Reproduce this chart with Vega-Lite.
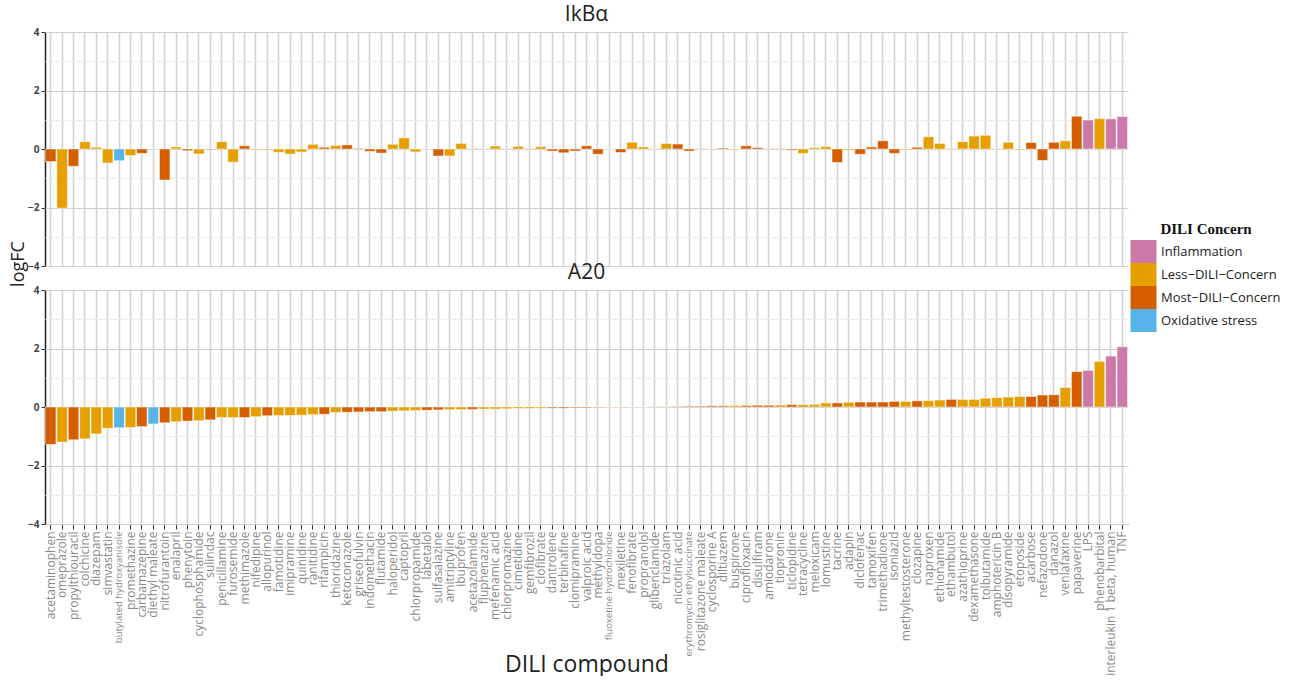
{
  "$schema": "https://vega.github.io/schema/vega-lite/v6.json",
  "background": "white",
  "padding": {"left": 10, "top": 4, "right": 0, "bottom": 0},
  "data": {"values": [
    {"compound": "acetaminophen", "concern": "Most−DILI−Concern", "IkBα": -0.43, "A20": -1.28},
    {"compound": "omeprazole", "concern": "Less−DILI−Concern", "IkBα": -2.02, "A20": -1.20},
    {"compound": "propylthiouracil", "concern": "Most−DILI−Concern", "IkBα": -0.59, "A20": -1.12},
    {"compound": "colchicine", "concern": "Less−DILI−Concern", "IkBα": 0.25, "A20": -1.09},
    {"compound": "diazepam", "concern": "Less−DILI−Concern", "IkBα": 0.06, "A20": -0.92},
    {"compound": "simvastatin", "concern": "Less−DILI−Concern", "IkBα": -0.48, "A20": -0.73},
    {"compound": "butylated hydroxyanisole", "concern": "Oxidative stress", "IkBα": -0.40, "A20": -0.71},
    {"compound": "promethazine", "concern": "Less−DILI−Concern", "IkBα": -0.22, "A20": -0.70},
    {"compound": "carbamazepine", "concern": "Most−DILI−Concern", "IkBα": -0.15, "A20": -0.67},
    {"compound": "diethyl maleate", "concern": "Oxidative stress", "IkBα": -0.02, "A20": -0.58},
    {"compound": "nitrofurantoin", "concern": "Most−DILI−Concern", "IkBα": -1.06, "A20": -0.54},
    {"compound": "enalapril", "concern": "Less−DILI−Concern", "IkBα": 0.07, "A20": -0.50},
    {"compound": "phenytoin", "concern": "Most−DILI−Concern", "IkBα": -0.06, "A20": -0.48},
    {"compound": "cyclophosphamide", "concern": "Less−DILI−Concern", "IkBα": -0.17, "A20": -0.47},
    {"compound": "sulindac", "concern": "Most−DILI−Concern", "IkBα": -0.02, "A20": -0.44},
    {"compound": "penicillamine", "concern": "Less−DILI−Concern", "IkBα": 0.25, "A20": -0.36},
    {"compound": "furosemide", "concern": "Less−DILI−Concern", "IkBα": -0.45, "A20": -0.36},
    {"compound": "methimazole", "concern": "Most−DILI−Concern", "IkBα": 0.11, "A20": -0.36},
    {"compound": "nifedipine", "concern": "Less−DILI−Concern", "IkBα": -0.03, "A20": -0.33},
    {"compound": "allopurinol", "concern": "Most−DILI−Concern", "IkBα": -0.02, "A20": -0.30},
    {"compound": "famotidine", "concern": "Less−DILI−Concern", "IkBα": -0.11, "A20": -0.29},
    {"compound": "imipramine", "concern": "Less−DILI−Concern", "IkBα": -0.17, "A20": -0.29},
    {"compound": "quinidine", "concern": "Less−DILI−Concern", "IkBα": -0.10, "A20": -0.28},
    {"compound": "ranitidine", "concern": "Less−DILI−Concern", "IkBα": 0.16, "A20": -0.26},
    {"compound": "rifampicin", "concern": "Most−DILI−Concern", "IkBα": 0.06, "A20": -0.25},
    {"compound": "thioridazine", "concern": "Less−DILI−Concern", "IkBα": 0.12, "A20": -0.19},
    {"compound": "ketoconazole", "concern": "Most−DILI−Concern", "IkBα": 0.14, "A20": -0.18},
    {"compound": "griseofulvin", "concern": "Most−DILI−Concern", "IkBα": 0.02, "A20": -0.17},
    {"compound": "indomethacin", "concern": "Most−DILI−Concern", "IkBα": -0.08, "A20": -0.16},
    {"compound": "flutamide", "concern": "Most−DILI−Concern", "IkBα": -0.14, "A20": -0.16},
    {"compound": "haloperidol", "concern": "Less−DILI−Concern", "IkBα": 0.16, "A20": -0.14},
    {"compound": "captopril", "concern": "Less−DILI−Concern", "IkBα": 0.38, "A20": -0.13},
    {"compound": "chlorpropamide", "concern": "Less−DILI−Concern", "IkBα": -0.10, "A20": -0.12},
    {"compound": "labetalol", "concern": "Most−DILI−Concern", "IkBα": -0.01, "A20": -0.11},
    {"compound": "sulfasalazine", "concern": "Most−DILI−Concern", "IkBα": -0.24, "A20": -0.10},
    {"compound": "amitriptyline", "concern": "Less−DILI−Concern", "IkBα": -0.24, "A20": -0.09},
    {"compound": "ibuprofen", "concern": "Less−DILI−Concern", "IkBα": 0.19, "A20": -0.09},
    {"compound": "acetazolamide", "concern": "Most−DILI−Concern", "IkBα": 0.01, "A20": -0.08},
    {"compound": "fluphenazine", "concern": "Less−DILI−Concern", "IkBα": 0.01, "A20": -0.07},
    {"compound": "mefenamic acid", "concern": "Less−DILI−Concern", "IkBα": 0.10, "A20": -0.07},
    {"compound": "chlorpromazine", "concern": "Less−DILI−Concern", "IkBα": 0.01, "A20": -0.06},
    {"compound": "cimetidine", "concern": "Less−DILI−Concern", "IkBα": 0.09, "A20": -0.05},
    {"compound": "gemfibrozil", "concern": "Less−DILI−Concern", "IkBα": 0.02, "A20": -0.05},
    {"compound": "clofibrate", "concern": "Less−DILI−Concern", "IkBα": 0.08, "A20": -0.04},
    {"compound": "dantrolene", "concern": "Most−DILI−Concern", "IkBα": -0.07, "A20": -0.04},
    {"compound": "terbinafine", "concern": "Most−DILI−Concern", "IkBα": -0.13, "A20": -0.04},
    {"compound": "clomipramine", "concern": "Most−DILI−Concern", "IkBα": -0.07, "A20": -0.03},
    {"compound": "valproic acid", "concern": "Most−DILI−Concern", "IkBα": 0.11, "A20": -0.03},
    {"compound": "methyldopa", "concern": "Most−DILI−Concern", "IkBα": -0.18, "A20": -0.02},
    {"compound": "fluoxetine hydrochloride", "concern": "Less−DILI−Concern", "IkBα": -0.01, "A20": -0.01},
    {"compound": "mexiletine", "concern": "Most−DILI−Concern", "IkBα": -0.12, "A20": -0.01},
    {"compound": "fenofibrate", "concern": "Less−DILI−Concern", "IkBα": 0.23, "A20": 0.0},
    {"compound": "propranolol", "concern": "Less−DILI−Concern", "IkBα": 0.07, "A20": 0.0},
    {"compound": "glibenclamide", "concern": "Less−DILI−Concern", "IkBα": 0.01, "A20": 0.01},
    {"compound": "triazolam", "concern": "Less−DILI−Concern", "IkBα": 0.19, "A20": 0.01},
    {"compound": "nicotinic acid", "concern": "Most−DILI−Concern", "IkBα": 0.17, "A20": 0.02},
    {"compound": "erythromycin ethylsuccinate", "concern": "Most−DILI−Concern", "IkBα": -0.07, "A20": 0.03},
    {"compound": "rosiglitazone maleate", "concern": "Most−DILI−Concern", "IkBα": 0.01, "A20": 0.03},
    {"compound": "cyclosporine A", "concern": "Most−DILI−Concern", "IkBα": -0.02, "A20": 0.04},
    {"compound": "diltiazem", "concern": "Most−DILI−Concern", "IkBα": 0.03, "A20": 0.04},
    {"compound": "buspirone", "concern": "Less−DILI−Concern", "IkBα": -0.03, "A20": 0.05},
    {"compound": "ciprofloxacin", "concern": "Most−DILI−Concern", "IkBα": 0.11, "A20": 0.05},
    {"compound": "disulfiram", "concern": "Most−DILI−Concern", "IkBα": 0.05, "A20": 0.06},
    {"compound": "amiodarone", "concern": "Most−DILI−Concern", "IkBα": 0.01, "A20": 0.06},
    {"compound": "tiopronin", "concern": "Less−DILI−Concern", "IkBα": 0.02, "A20": 0.07},
    {"compound": "ticlopidine", "concern": "Most−DILI−Concern", "IkBα": -0.04, "A20": 0.08},
    {"compound": "tetracycline", "concern": "Less−DILI−Concern", "IkBα": -0.15, "A20": 0.08},
    {"compound": "meloxicam", "concern": "Less−DILI−Concern", "IkBα": 0.05, "A20": 0.09},
    {"compound": "lomustine", "concern": "Less−DILI−Concern", "IkBα": 0.08, "A20": 0.14},
    {"compound": "tacrine", "concern": "Most−DILI−Concern", "IkBα": -0.46, "A20": 0.14},
    {"compound": "adapin", "concern": "Less−DILI−Concern", "IkBα": -0.04, "A20": 0.16},
    {"compound": "diclofenac", "concern": "Most−DILI−Concern", "IkBα": -0.18, "A20": 0.17},
    {"compound": "tamoxifen", "concern": "Most−DILI−Concern", "IkBα": 0.07, "A20": 0.17},
    {"compound": "trimethadione", "concern": "Most−DILI−Concern", "IkBα": 0.28, "A20": 0.17},
    {"compound": "isoniazid", "concern": "Most−DILI−Concern", "IkBα": -0.15, "A20": 0.19},
    {"compound": "methyltestosterone", "concern": "Less−DILI−Concern", "IkBα": -0.03, "A20": 0.19},
    {"compound": "clozapine", "concern": "Most−DILI−Concern", "IkBα": 0.06, "A20": 0.21},
    {"compound": "naproxen", "concern": "Less−DILI−Concern", "IkBα": 0.42, "A20": 0.22},
    {"compound": "ethionamide", "concern": "Less−DILI−Concern", "IkBα": 0.19, "A20": 0.24},
    {"compound": "ethambutol", "concern": "Most−DILI−Concern", "IkBα": 0.01, "A20": 0.26},
    {"compound": "azathioprine", "concern": "Less−DILI−Concern", "IkBα": 0.25, "A20": 0.26},
    {"compound": "dexamethasone", "concern": "Less−DILI−Concern", "IkBα": 0.44, "A20": 0.26},
    {"compound": "tolbutamide", "concern": "Less−DILI−Concern", "IkBα": 0.47, "A20": 0.30},
    {"compound": "amphotericin B", "concern": "Less−DILI−Concern", "IkBα": 0.01, "A20": 0.32},
    {"compound": "disopyramide", "concern": "Less−DILI−Concern", "IkBα": 0.23, "A20": 0.34},
    {"compound": "etoposide", "concern": "Less−DILI−Concern", "IkBα": -0.03, "A20": 0.36},
    {"compound": "acarbose", "concern": "Most−DILI−Concern", "IkBα": 0.22, "A20": 0.36},
    {"compound": "nefazodone", "concern": "Most−DILI−Concern", "IkBα": -0.39, "A20": 0.41},
    {"compound": "danazol", "concern": "Most−DILI−Concern", "IkBα": 0.23, "A20": 0.42},
    {"compound": "venlafaxine", "concern": "Less−DILI−Concern", "IkBα": 0.28, "A20": 0.67},
    {"compound": "papaverine", "concern": "Most−DILI−Concern", "IkBα": 1.12, "A20": 1.21},
    {"compound": "LPS", "concern": "Inflammation", "IkBα": 0.99, "A20": 1.25},
    {"compound": "phenobarbital", "concern": "Less−DILI−Concern", "IkBα": 1.04, "A20": 1.56},
    {"compound": "interleukin 1 beta, human", "concern": "Inflammation", "IkBα": 1.03, "A20": 1.74},
    {"compound": "TNF", "concern": "Inflammation", "IkBα": 1.11, "A20": 2.06}
  ]},
  "transform": [{"fold": ["IkBα", "A20"], "as": ["gene", "logFC"]}],
  "facet": {
    "row": {
      "field": "gene", "type": "nominal", "sort": ["IkBα", "A20"],
      "header": {
        "title": "logFC", "titleOrient": "left", "titleFont": "Open Sans", "titleFontSize": 18, "titleFontWeight": "normal", "titleColor": "#222", "titlePadding": -11,
        "labelOrient": "top", "labelAngle": 0, "labelFont": "Open Sans", "labelFontSize": 21, "labelColor": "#222", "labelPadding": -14
      }
    }
  },
  "spacing": {"row": -4},
  "spec": {
    "width": 1083,
    "height": 234,
    "mark": {"type": "bar", "stroke": "#ffffff", "strokeWidth": 0.8, "strokeOpacity": 0.6},
    "encoding": {
      "x": {
        "field": "compound", "type": "nominal", "sort": null,
        "scale": {"paddingInner": 0.08, "paddingOuter": 0.04},
        "axis": {
          "title": "DILI compound", "titleFont": "Open Sans", "titleFontSize": 23, "titleFontWeight": "normal", "titleColor": "#222",
          "titleY": 147, "titleBaseline": "alphabetic",
          "labelAngle": -90, "labelFont": "Open Sans",
          "labelFontSize": {"condition": {"test": "indexof(['butylated hydroxyanisole','fluoxetine hydrochloride','erythromycin ethylsuccinate'], datum.value) >= 0", "value": 9.5}, "value": 12},
          "labelColor": "#8a8a8a", "labelPadding": 2, "labelLimit": 300,
          "grid": true, "gridColor": "#d2d2d2", "gridWidth": 1.6,
          "tickColor": "#333", "tickSize": 5, "domainColor": "#333", "domainWidth": 1.2
        }
      },
      "y": {
        "field": "logFC", "type": "quantitative",
        "scale": {"domain": [-4, 4], "nice": false},
        "axis": {
          "title": null,
          "values": [-4, -3, -2, -1, 0, 1, 2, 3, 4],
          "labelExpr": "datum.value % 2 === 0 ? datum.label : ''",
          "labelFont": "Open Sans", "labelFontSize": 10, "labelFontWeight": "bold", "labelColor": "#444",
          "gridColor": {"condition": {"test": "datum.value % 2 !== 0", "value": "#ededed"}, "value": "#cfcfcf"},
          "gridWidth": 1.2,
          "tickSize": {"condition": {"test": "datum.value % 2 !== 0", "value": 0}, "value": 4},
          "tickColor": "#333", "domainColor": "#222", "domainWidth": 1.5
        }
      },
      "color": {
        "field": "concern", "type": "nominal",
        "scale": {
          "domain": ["Inflammation", "Less−DILI−Concern", "Most−DILI−Concern", "Oxidative stress"],
          "range": ["#CC79A7", "#E69F00", "#D55E00", "#56B4E9"]
        },
        "legend": {
          "title": "DILI Concern", "orient": "none", "legendX": 1087, "legendY": 190,
          "titleFont": "Liberation Serif", "titleFontSize": 15, "titleFontWeight": "bold", "titleColor": "#111",
          "titleAnchor": "middle", "titlePadding": 3,
          "labelFont": "Open Sans", "labelFontSize": 13, "labelColor": "#222", "labelOffset": 6,
          "symbolType": "M-1.13,-1H1.13V1H-1.13Z", "symbolSize": 529, "symbolStrokeWidth": 0, "symbolOpacity": 1,
          "rowPadding": 0
        }
      }
    }
  },
  "config": {
    "view": {"stroke": null}
  }
}
